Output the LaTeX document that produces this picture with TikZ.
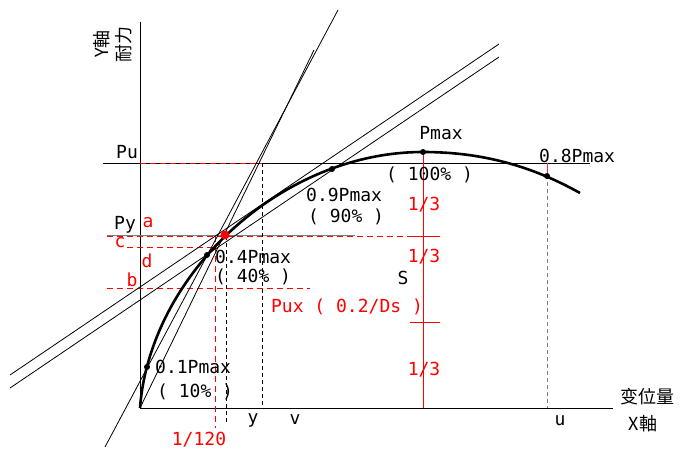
\documentclass[tikz,border=0pt]{standalone}
\usepackage{fontspec}
\setmainfont{DejaVu Sans Mono}
\newfontfamily\jpfont{Noto Sans CJK JP}
\begin{document}
\begin{tikzpicture}[x=1pt,y=-1pt,
  fine/.style={black, line width=0.8pt},
  bkdash/.style={black, line width=0.8pt, dash pattern=on 4pt off 3pt},
  rddash/.style={red, line width=0.8pt, dash pattern=on 6pt off 4pt},
  lbl/.style={font=\fontsize{18}{22}\selectfont, inner sep=0pt},
  rlbl/.style={lbl, text=red},
  dot/.style={circle, fill=black, inner sep=0pt, minimum size=6pt}]
\useasboundingbox (0,0) rectangle (680,451);

\draw[fine] (140,22) -- (140,408) -- (613,408);
\draw[fine] (103,163) -- (590,163);
\draw[gray, line width=1pt] (107,235) -- (355,235);

\draw[rddash] (140,163) -- (262,163);
\draw[rddash] (107,236) -- (440,236);
\draw[rddash] (127,247) -- (215,247);
\draw[rddash] (107,288) -- (310,288);
\draw[rddash] (215,236) -- (215,428);

\draw[bkdash] (226,236) -- (226,422);
\draw[bkdash] (262,163) -- (262,408);
\draw[gray, line width=1pt, dash pattern=on 4pt off 3pt] (547,175) -- (547,408);
\draw[red!80, line width=1pt] (547,163) -- (547,175);

\draw[red, line width=0.8pt] (423,152) -- (423,408);
\draw[red, line width=0.8pt] (410,236) -- (440,236);
\draw[red, line width=0.8pt] (410,322) -- (440,322);

\draw[fine] (105,447) -- (338,10);
\draw[fine] (140,408) -- (314,50);
\draw[fine] (10,375) -- (499,44);
\draw[fine] (10,388) -- (499,57);

\draw[line width=2.6pt] (140,408) .. controls (150,275) and (280,152) .. (423,152)
  .. controls (480,152) and (530,165) .. (580,193);

\node[dot] (p10) at (147,367) {};
\node[dot] (p40) at (207,255) {};
\node[dot] (p90) at (332,169) {};
\node[dot] (pm) at (423,152) {};
\node[dot] (p80) at (547,176) {};
\node[circle, fill=red, inner sep=0pt, minimum size=9pt] (yld) at (225,235) {};

\node[lbl, rotate=90, align=center] (yax) at (113,44) {\jpfont Y軸\\\jpfont 耐力};
\node[lbl] (pu) at (127,152) {Pu};
\node[lbl] (py) at (125,225) {Py};
\node[rlbl] (la) at (148,223) {a};
\node[rlbl] (lc) at (120,243) {c};
\node[rlbl] (ld) at (147,261) {d};
\node[rlbl] (lb) at (132,280) {b};

\node[lbl, anchor=west] (t10a) at (155,367) {0.1Pmax};
\node[lbl, anchor=west] (t10b) at (157,392) {( 10\% )};
\node[lbl, anchor=west] (t40a) at (215,257) {0.4Pmax};
\node[lbl, anchor=west] (t40b) at (215,277) {( 40\% )};
\node[lbl, anchor=west] (t90a) at (306,195) {0.9Pmax};
\node[lbl, anchor=west] (t90b) at (308,217) {( 90\% )};
\node[lbl] (tpm) at (441,133) {Pmax};
\node[lbl, anchor=west] (t100) at (386,175) {( 100\% )};
\node[lbl, anchor=west] (t80) at (539,156) {0.8Pmax};

\node[lbl] (ls) at (403,278) {S};
\node[rlbl] (pux) at (347,307) {Pux ( 0.2/Ds )};
\node[rlbl] (th1) at (424,205) {1/3};
\node[rlbl] (th2) at (424,257) {1/3};
\node[rlbl] (th3) at (424,370) {1/3};
\node[rlbl] (r120) at (199,440) {1/120};

\node[lbl] (ly) at (253,420) {y};
\node[lbl] (lv) at (295,420) {v};
\node[lbl] (lu) at (560,421) {u};
\node[lbl] (xax) at (643,424) {\jpfont X軸};
\node[lbl] (disp) at (647,397) {\jpfont 变位量};
\end{tikzpicture}
\end{document}
